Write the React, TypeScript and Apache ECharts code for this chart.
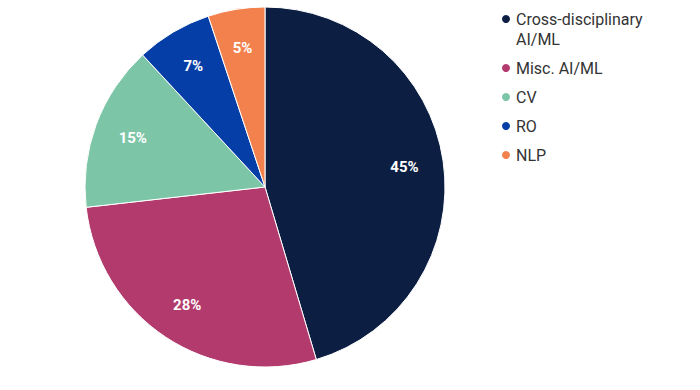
import React, { useEffect, useRef } from "react";
import * as echarts from "echarts";

const categories = ["Cross-disciplinary AI/ML", "Misc. AI/ML", "CV", "RO", "NLP"];
const legendLabels = [" \nCross-disciplinary\nAI/ML", "Misc. AI/ML", "CV", "RO", "NLP"];
const values = [45.4, 27.8, 14.9, 6.8, 5.1];
const colors = ["#0c1f43", "#b23a6d", "#7cc5a6", "#053ea6", "#f2814e"];

export default function App() {
  const ref = useRef<HTMLDivElement>(null);
  useEffect(() => {
    const chart = echarts.init(ref.current!, null, { renderer: "svg" });
    const data = categories.map((name, i) => ({
      name,
      value: values[i],
      itemStyle: { color: colors[i] },
    }));
    chart.setOption({
      animation: false,
      backgroundColor: "#ffffff",
      legend: {
        orient: "vertical",
        left: 500,
        top: -11,
        padding: 0,
        icon: "circle",
        itemWidth: 10,
        itemHeight: 10,
        itemGap: 9,
        textStyle: { fontFamily: "Roboto", fontSize: 16, color: "#333333", lineHeight: 20 },
        formatter: (name: string) => legendLabels[categories.indexOf(name)],
        data: categories,
      },
      series: [
        {
          type: "pie",
          center: [265, 187],
          radius: [0, 180],
          startAngle: 90,
          clockwise: true,
          label: { show: false },
          labelLine: { show: false },
          itemStyle: { borderColor: "#ffffff", borderWidth: 1 },
          data,
        },
        {
          type: "pie",
          center: [265, 187],
          radius: [96, 180],
          startAngle: 90,
          clockwise: true,
          silent: true,
          legendHoverLink: false,
          itemStyle: { color: "rgba(0,0,0,0)" },
          label: {
            show: true,
            position: "inside",
            formatter: (p: any) => Math.round(p.value) + "%",
            color: "#ffffff",
            fontFamily: "Roboto",
            fontWeight: "bold",
            fontSize: 15,
          },
          labelLine: { show: false },
          data: categories.map((name, i) => ({
            name,
            value: values[i],
            itemStyle: { color: "rgba(0,0,0,0)" },
          })),
        },
      ],
    });
    return () => chart.dispose();
  }, []);
  return (
    <div
      ref={ref}
      style={{ position: "fixed", left: 0, top: 0, width: 700, height: 390 }}
    />
  );
}
